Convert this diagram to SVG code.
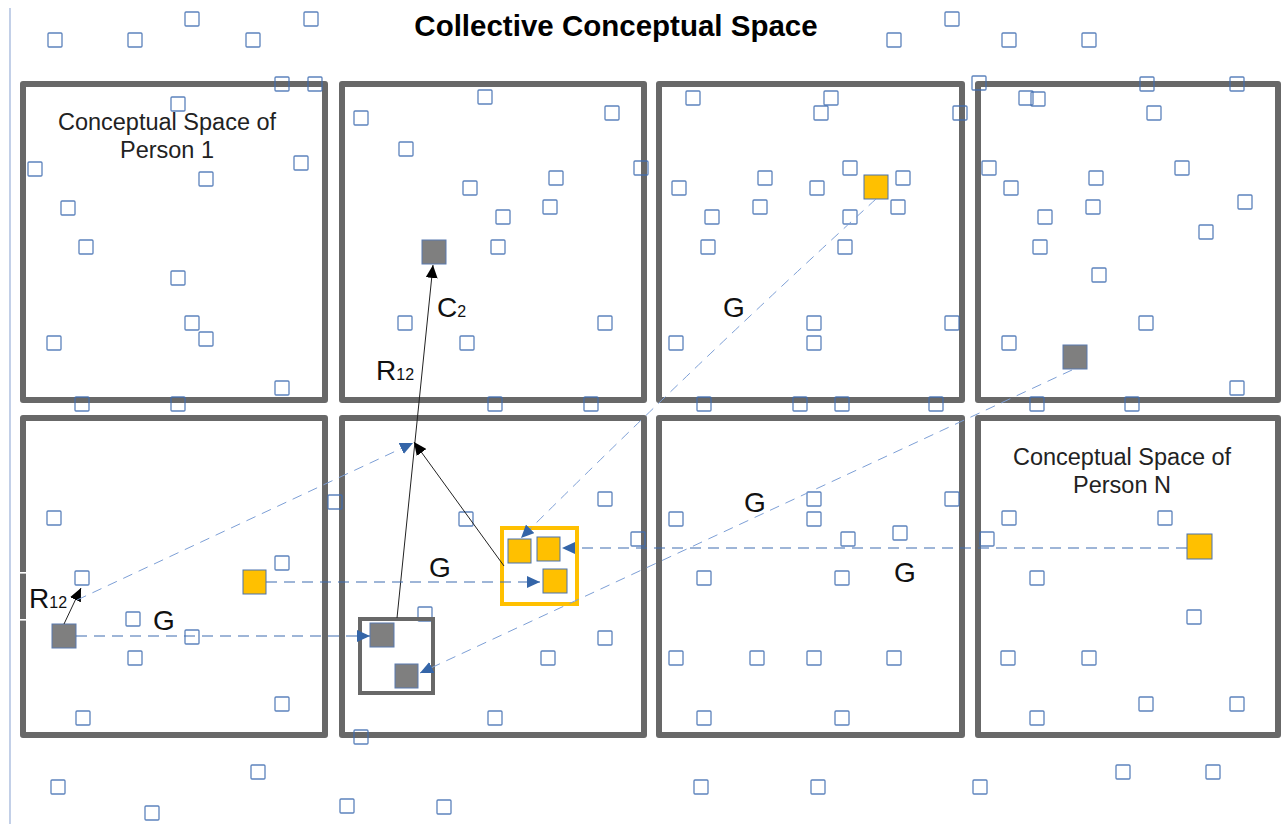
<svg xmlns="http://www.w3.org/2000/svg" width="1287" height="824" viewBox="0 0 1287 824">
<style>
.box{fill:none;stroke:#686868;stroke-width:6;stroke-linejoin:round}
.s{fill:none;stroke:#3f6cb0;stroke-width:1.3;stroke-opacity:0.85}
.g{fill:#7f7f7f;stroke:#5a7bb0;stroke-width:1}
.o{fill:#ffc000;stroke:#4a72b0;stroke-width:1}
.lbl{font-family:"Liberation Sans",Arial,sans-serif;fill:#111}
.cap{font-family:"Liberation Sans",Arial,sans-serif;font-size:23.5px;fill:#222;text-anchor:middle}
.dk{fill:none;stroke:#3f6cb0;stroke-width:1.2;stroke-dasharray:11 7}
.lt{fill:none;stroke:#7d9fd6;stroke-width:1;stroke-dasharray:10 7}
.blk{fill:none;stroke:#222;stroke-width:1}
</style>
<defs>
<marker id="ab" markerUnits="userSpaceOnUse" markerWidth="14" markerHeight="12" refX="13" refY="6" orient="auto"><path d="M0,0 L13,6 L0,12 z" fill="#000"/></marker>
<marker id="abl" markerUnits="userSpaceOnUse" markerWidth="14" markerHeight="12" refX="13" refY="6" orient="auto"><path d="M0,0 L13,6 L0,12 z" fill="#3465a8"/></marker>
<g id="sq"><rect width="14" height="14" rx="1"/></g>
</defs>
<rect width="1287" height="824" fill="#fff"/>
<line x1="10" y1="8" x2="10" y2="824" stroke="#9ab0d8" stroke-width="1.2"/>
<text x="616" y="36" font-family="Liberation Sans,Arial,sans-serif" font-weight="bold" font-size="29.5" fill="#000" text-anchor="middle">Collective Conceptual Space</text>

<g id="space1"><rect class="box" x="23" y="84" width="302" height="316"/><text class="cap" x="167" y="130">Conceptual Space of</text><text class="cap" x="167" y="158">Person 1</text></g>
<g id="space2"><rect class="box" x="342" y="84" width="302" height="316"/></g>
<g id="space3"><rect class="box" x="659" y="84" width="303" height="316"/></g>
<g id="space4"><rect class="box" x="978" y="84" width="300" height="316"/></g>
<g id="space5"><rect class="box" x="23" y="418" width="302" height="317"/><rect x="18" y="572" width="11" height="1.6" fill="#fff"/><rect x="18" y="619" width="11" height="1.6" fill="#fff"/></g>
<g id="space6"><rect class="box" x="342" y="418" width="302" height="317"/></g>
<g id="space7"><rect class="box" x="659" y="418" width="303" height="317"/></g>
<g id="spaceN"><rect class="box" x="978" y="418" width="300" height="317"/><text class="cap" x="1122" y="465">Conceptual Space of</text><text class="cap" x="1122" y="493">Person N</text></g>

<g id="small-concepts" class="s">
<use href="#sq" x="48" y="33"/><use href="#sq" x="128" y="33"/><use href="#sq" x="185" y="12"/><use href="#sq" x="246" y="33"/><use href="#sq" x="304" y="12"/><use href="#sq" x="275" y="77"/><use href="#sq" x="308" y="77"/><use href="#sq" x="945" y="12"/><use href="#sq" x="887" y="33"/><use href="#sq" x="1002" y="33"/><use href="#sq" x="1082" y="33"/><use href="#sq" x="972" y="76"/>
<use href="#sq" x="171" y="97"/><use href="#sq" x="28" y="162"/><use href="#sq" x="199" y="172"/><use href="#sq" x="294" y="156"/><use href="#sq" x="61" y="201"/><use href="#sq" x="79" y="240"/><use href="#sq" x="171" y="271"/><use href="#sq" x="185" y="316"/><use href="#sq" x="199" y="332"/><use href="#sq" x="47" y="336"/><use href="#sq" x="275" y="381"/><use href="#sq" x="75" y="397"/><use href="#sq" x="171" y="397"/>
<use href="#sq" x="478" y="90"/><use href="#sq" x="354" y="111"/><use href="#sq" x="605" y="106"/><use href="#sq" x="399" y="142"/><use href="#sq" x="634" y="161"/><use href="#sq" x="463" y="181"/><use href="#sq" x="549" y="171"/><use href="#sq" x="543" y="200"/><use href="#sq" x="496" y="210"/><use href="#sq" x="491" y="240"/><use href="#sq" x="398" y="316"/><use href="#sq" x="598" y="316"/><use href="#sq" x="460" y="336"/><use href="#sq" x="488" y="397"/><use href="#sq" x="584" y="397"/>
<use href="#sq" x="686" y="91"/><use href="#sq" x="824" y="91"/><use href="#sq" x="814" y="106"/><use href="#sq" x="953" y="106"/><use href="#sq" x="843" y="161"/><use href="#sq" x="758" y="171"/><use href="#sq" x="672" y="181"/><use href="#sq" x="810" y="181"/><use href="#sq" x="896" y="171"/><use href="#sq" x="891" y="200"/><use href="#sq" x="753" y="200"/><use href="#sq" x="705" y="210"/><use href="#sq" x="843" y="210"/><use href="#sq" x="701" y="240"/><use href="#sq" x="838" y="240"/><use href="#sq" x="807" y="316"/><use href="#sq" x="945" y="316"/><use href="#sq" x="669" y="336"/><use href="#sq" x="807" y="336"/><use href="#sq" x="697" y="397"/><use href="#sq" x="793" y="397"/><use href="#sq" x="835" y="397"/><use href="#sq" x="929" y="397"/>
<use href="#sq" x="1140" y="77"/><use href="#sq" x="1230" y="77"/><use href="#sq" x="1019" y="91"/><use href="#sq" x="1031" y="92"/><use href="#sq" x="1147" y="106"/><use href="#sq" x="982" y="161"/><use href="#sq" x="1175" y="161"/><use href="#sq" x="1089" y="171"/><use href="#sq" x="1004" y="181"/><use href="#sq" x="1238" y="195"/><use href="#sq" x="1086" y="200"/><use href="#sq" x="1038" y="210"/><use href="#sq" x="1199" y="225"/><use href="#sq" x="1033" y="240"/><use href="#sq" x="1092" y="268"/><use href="#sq" x="1139" y="316"/><use href="#sq" x="1002" y="336"/><use href="#sq" x="1230" y="381"/><use href="#sq" x="1030" y="397"/><use href="#sq" x="1125" y="397"/>
<use href="#sq" x="47" y="511"/><use href="#sq" x="75" y="571"/><use href="#sq" x="275" y="556"/><use href="#sq" x="328" y="495"/><use href="#sq" x="126" y="612"/><use href="#sq" x="185" y="630"/><use href="#sq" x="128" y="651"/><use href="#sq" x="275" y="697"/><use href="#sq" x="76" y="711"/>
<use href="#sq" x="459" y="512"/><use href="#sq" x="598" y="492"/><use href="#sq" x="631" y="532"/><use href="#sq" x="418" y="607"/><use href="#sq" x="541" y="651"/><use href="#sq" x="598" y="631"/><use href="#sq" x="488" y="711"/><use href="#sq" x="354" y="730"/>
<use href="#sq" x="669" y="512"/><use href="#sq" x="807" y="492"/><use href="#sq" x="807" y="512"/><use href="#sq" x="945" y="492"/><use href="#sq" x="841" y="532"/><use href="#sq" x="893" y="526"/><use href="#sq" x="697" y="571"/><use href="#sq" x="835" y="571"/><use href="#sq" x="669" y="651"/><use href="#sq" x="750" y="651"/><use href="#sq" x="807" y="651"/><use href="#sq" x="887" y="651"/><use href="#sq" x="697" y="711"/><use href="#sq" x="835" y="711"/>
<use href="#sq" x="1002" y="511"/><use href="#sq" x="1158" y="511"/><use href="#sq" x="980" y="532"/><use href="#sq" x="1030" y="571"/><use href="#sq" x="1187" y="610"/><use href="#sq" x="1001" y="651"/><use href="#sq" x="1082" y="651"/><use href="#sq" x="1139" y="697"/><use href="#sq" x="1230" y="697"/><use href="#sq" x="1030" y="711"/>
<use href="#sq" x="251" y="765"/><use href="#sq" x="51" y="780"/><use href="#sq" x="145" y="806"/><use href="#sq" x="340" y="799"/><use href="#sq" x="437" y="800"/><use href="#sq" x="694" y="780"/><use href="#sq" x="811" y="780"/><use href="#sq" x="973" y="780"/><use href="#sq" x="1116" y="765"/><use href="#sq" x="1206" y="765"/>
</g>

<g id="group-box-gray"><rect x="360" y="619" width="73" height="74" fill="none" stroke="#686868" stroke-width="4"/></g>
<g id="group-box-orange"><rect x="502" y="528" width="75" height="76" fill="none" stroke="#ffc000" stroke-width="4"/></g>

<g id="gray-concepts" class="g">
<rect x="422" y="240" width="24" height="24"/><rect x="1063" y="345" width="24" height="24"/><rect x="52" y="624" width="24" height="24"/><rect x="370" y="623" width="24" height="24"/><rect x="395" y="664" width="23" height="24"/>
</g>
<g id="orange-concepts" class="o">
<rect x="864" y="175" width="24" height="24"/><rect x="243" y="570" width="23" height="24"/><rect x="508" y="539" width="23" height="24"/><rect x="537" y="537" width="23" height="24"/><rect x="543" y="569" width="24" height="24"/><rect x="1187" y="534" width="25" height="25"/>
</g>

<g id="connectors">
<line class="blk" x1="397" y1="618" x2="433" y2="265" marker-end="url(#ab)"/>
<line class="blk" x1="504" y1="566" x2="414" y2="442" marker-end="url(#ab)"/>
<line class="blk" x1="64" y1="624" x2="81" y2="588" marker-end="url(#ab)"/>
<line class="lt" x1="77" y1="600" x2="413" y2="443" marker-end="url(#abl)"/>
<line class="dk" x1="266" y1="582" x2="540" y2="582" marker-end="url(#abl)"/>
<line class="dk" x1="76" y1="636" x2="370" y2="636" marker-end="url(#abl)"/>
<line class="dk" x1="1187" y1="548" x2="562" y2="548" marker-end="url(#abl)"/>
<path class="lt" d="M876,199 Q700,360 521,538" marker-end="url(#abl)"/>
<line class="lt" x1="1072" y1="370" x2="420" y2="673" marker-end="url(#abl)"/>
</g>

<g id="labels" class="lbl">
<text x="437" y="317" font-size="28">C<tspan font-size="16" dy="0">2</tspan></text>
<text x="376" y="380" font-size="28">R<tspan font-size="16">12</tspan></text>
<text x="29" y="608" font-size="28">R<tspan font-size="16">12</tspan></text>
<text x="723" y="317" font-size="28">G</text>
<text x="744" y="512" font-size="28">G</text>
<text x="894" y="582" font-size="28">G</text>
<text x="429" y="577" font-size="28">G</text>
<text x="153" y="630" font-size="28">G</text>
</g>
</svg>
